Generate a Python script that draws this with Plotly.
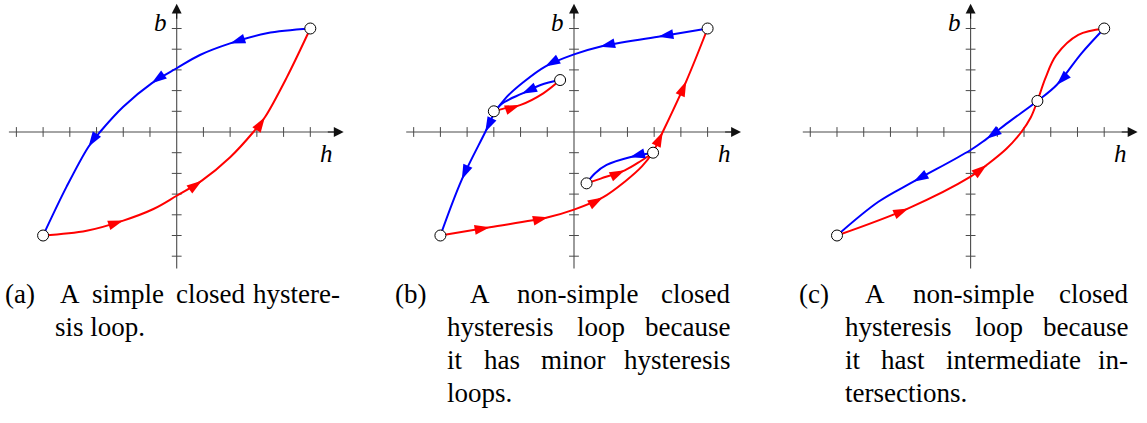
import math
import plotly.graph_objects as go

# ---------------------------------------------------------------- data ----
# (a) simple closed loop: descending (blue) and ascending (red) branches
a_desc_h = [5, 3.37, 2, 0.87, 0, -0.94, -2, -2.87, -3.3, -4.12, -5]
a_desc_b = [5, 4.77, 4.28, 3.72, 3.08, 2.35, 1.22, 0, -0.71, -2.64, -5]
a_asc_h = [-5, -3.37, -2, -0.87, 0, 0.94, 2, 2.87, 3.3, 4.12, 5]
a_asc_b = [-5, -4.77, -4.28, -3.72, -3.08, -2.35, -1.22, 0, 0.71, 2.64, 5]
a_turn_h = [5, -5]
a_turn_b = [5, -5]

# (b) major loop with two minor loops
b_desc_h = [5, 3.15, 0.97, 0, -1.08, -1.9, -2.55, -2.96, -3.32, -4.2, -5]
b_desc_b = [5, 4.6, 4.12, 3.75, 3.16, 2.4, 1.65, 0.95, 0, -2.3, -5]
b_asc_h = [-5, -3.15, -0.97, 0, 1.08, 1.9, 2.55, 2.96, 3.32, 4.2, 5]
b_asc_b = [-5, -4.6, -4.12, -3.75, -3.16, -2.4, -1.65, -0.95, 0, 2.45, 5]
b_minor1_desc_h = [-0.52, -1.25, -1.95, -2.6, -3.0]
b_minor1_desc_b = [2.51, 2.27, 1.85, 1.45, 1.0]
b_minor1_asc_h = [-3.0, -2.6, -2.02, -1.15, -0.52]
b_minor1_asc_b = [1.0, 1.14, 1.3, 1.87, 2.51]
b_minor2_desc_h = [2.96, 2.09, 1.22, 0.78, 0.47]
b_minor2_desc_b = [-1.0, -1.22, -1.59, -2.0, -2.48]
b_minor2_asc_h = [0.47, 1.0, 1.9, 2.5, 2.96]
b_minor2_asc_b = [-2.48, -2.25, -1.85, -1.4, -1.0]
b_turn_h = [5, -5, -3.0, -0.52, 0.47, 2.96]
b_turn_b = [5, -5, 1.0, 2.51, -2.48, -1.0]

# (c) loop whose branches cross in between
c_desc_h = [5, 4.15, 3.22, 2.5, 1.5, 0.6, 0, -2.14, -3.45, -5]
c_desc_b = [5, 3.8, 2.27, 1.5, 0.55, -0.33, -0.87, -2.4, -3.37, -5]
c_asc_h = [-5, -2.33, 0, 0.6, 1.35, 1.9, 2.25, 2.5, 2.8, 3.2, 4.03, 5]
c_asc_b = [-5, -3.69, -2.16, -1.6, -0.8, 0, 0.7, 1.5, 2.6, 3.7, 4.69, 5]
c_turn_h = [5, -5, 2.5]
c_turn_b = [5, -5, 1.5]

# knots that carry a direction arrow
a_desc_arrows = [2, 5, 8]
a_asc_arrows = [2, 5, 8]
b_desc_arrows = [1, 2, 4, 8, 9]
b_asc_arrows = [1, 2, 4, 8, 9]
b_minor1_desc_arrows = [2]
b_minor1_asc_arrows = [2]
b_minor2_desc_arrows = [1]
b_minor2_asc_arrows = [2]
c_desc_arrows = [2, 5, 7]
c_asc_arrows = [1, 3]

tick_values = [-6, -5, -4, -3, -2, -1, 1, 2, 3, 4, 5]

caption_labels = ["(a)", "(b)", "(c)"]
caption_lines = [
    [["A", "simple", "closed", "hystere-"], ["sis loop."]],
    [["A", "non-simple", "closed"], ["hysteresis", "loop", "because"],
     ["it", "has", "minor", "hysteresis"], ["loops."]],
    [["A", "non-simple", "closed"], ["hysteresis", "loop", "because"],
     ["it", "hast", "intermediate", "in-"], ["tersections."]],
]

# --------------------------------------------------------------- layout ---
W, H = 1147, 423
SX, SY = 26.72, 20.7          # pixels per unit of h and b
ORIGIN_Y = 132                # pixel row of b = 0
PANEL_CX = [176.7, 574.0, 970.6]
LEFT, RIGHT = 176, 172        # pixels left / right of the b axis
PANEL_H = 272                 # pixel height of each plot area

BLUE, RED = "#0000ff", "#ff0000"
AXIS_COL = "#4a4a4a"
SERIF = "Liberation Serif"

# caption placement: label x, then per line (left edge, right edge or None
# for a ragged last line)
caption_label_x = [3, 393, 797]
caption_place = [
    [(58, 342), (53, None)],
    [(468, 732), (445, 732), (445, 732), (445, None)],
    [(863, 1130), (843, 1130), (843, 1130), (843, None)],
]
BASELINES = [303, 336, 369, 402]
CAP_SIZE = 27

# advance widths of Liberation Serif (units per 1000 em)
GLYPH_W = {"A": 722, "a": 444, "b": 500, "c": 444, "d": 500, "e": 444,
           "h": 500, "i": 278, "l": 278, "m": 778, "n": 500, "o": 500,
           "p": 500, "r": 333, "s": 389, "t": 278, "u": 500, "y": 500,
           "-": 333, ".": 250}


def word_width(word):
    return sum(GLYPH_W.get(ch, 500) for ch in word) * CAP_SIZE / 1000


def arrow_angles(h, b, idx):
    """Marker angles following plotly's own spline tangent at each knot."""
    pts = [(x * SX, -y * SY) for x, y in zip(h, b)]
    out = []
    for i in idx:
        p0, p1, p2 = pts[i - 1], pts[i], pts[i + 1]
        d1 = (p0[0] - p1[0], p0[1] - p1[1])
        d2 = (p2[0] - p1[0], p2[1] - p1[1])
        d1a = (d1[0] ** 2 + d1[1] ** 2) ** 0.25
        d2a = (d2[0] ** 2 + d2[1] ** 2) ** 0.25
        tx = d1a ** 2 * d2[0] - d2a ** 2 * d1[0]
        ty = d1a ** 2 * d2[1] - d2a ** 2 * d1[1]
        out.append(math.degrees(math.atan2(tx, -ty)))
    return out


panels = [
    dict(curves=[(a_desc_h, a_desc_b, BLUE, a_desc_arrows),
                 (a_asc_h, a_asc_b, RED, a_asc_arrows)],
         turns=(a_turn_h, a_turn_b)),
    dict(curves=[(b_desc_h, b_desc_b, BLUE, b_desc_arrows),
                 (b_asc_h, b_asc_b, RED, b_asc_arrows),
                 (b_minor1_desc_h, b_minor1_desc_b, BLUE, b_minor1_desc_arrows),
                 (b_minor1_asc_h, b_minor1_asc_b, RED, b_minor1_asc_arrows),
                 (b_minor2_desc_h, b_minor2_desc_b, BLUE, b_minor2_desc_arrows),
                 (b_minor2_asc_h, b_minor2_asc_b, RED, b_minor2_asc_arrows)],
         turns=(b_turn_h, b_turn_b)),
    dict(curves=[(c_desc_h, c_desc_b, BLUE, c_desc_arrows),
                 (c_asc_h, c_asc_b, RED, c_asc_arrows)],
         turns=(c_turn_h, c_turn_b)),
]

fig = go.Figure()
fig.update_layout(width=W, height=H, margin=dict(l=0, r=0, t=0, b=0),
                  paper_bgcolor="white", plot_bgcolor="rgba(0,0,0,0)",
                  showlegend=False)

for k, panel in enumerate(panels):
    sfx = "" if k == 0 else str(k + 1)
    xref, yref = "x" + sfx, "y" + sfx
    cx = PANEL_CX[k]
    fig.update_layout({
        "xaxis" + sfx: dict(domain=[(cx - LEFT) / W, (cx + RIGHT) / W],
                            range=[-LEFT / SX, RIGHT / SX], visible=False,
                            fixedrange=True, anchor=yref),
        "yaxis" + sfx: dict(domain=[1 - PANEL_H / H, 1],
                            range=[(ORIGIN_Y - PANEL_H) / SY, ORIGIN_Y / SY],
                            visible=False, fixedrange=True, anchor=xref),
    })

    # coordinate axes
    fig.add_shape(type="line", xref=xref, yref=yref, x0=-6.28, x1=6.0,
                  y0=0, y1=0, layer="below",
                  line=dict(color=AXIS_COL, width=1.1))
    fig.add_shape(type="line", xref=xref, yref=yref, x0=0, x1=0,
                  y0=-6.6, y1=5.9, layer="below",
                  line=dict(color=AXIS_COL, width=1.1))
    fig.add_annotation(x=6.25, y=0, ax=5.6, ay=0, xref=xref, yref=yref,
                       axref=xref, ayref=yref, text="", showarrow=True,
                       arrowhead=2, arrowsize=1.8, arrowwidth=1.1,
                       arrowcolor="#111")
    fig.add_annotation(x=0, y=6.2, ax=0, ay=5.4, xref=xref, yref=yref,
                       axref=xref, ayref=yref, text="", showarrow=True,
                       arrowhead=2, arrowsize=1.8, arrowwidth=1.1,
                       arrowcolor="#111")
    fig.add_trace(go.Scatter(x=tick_values, y=[0] * len(tick_values),
                             xaxis=xref, yaxis=yref, mode="markers",
                             hoverinfo="skip",
                             marker=dict(symbol="line-ns-open", size=7,
                                         color=AXIS_COL,
                                         line=dict(color=AXIS_COL, width=1))))
    fig.add_trace(go.Scatter(x=[0] * len(tick_values), y=tick_values,
                             xaxis=xref, yaxis=yref, mode="markers",
                             hoverinfo="skip",
                             marker=dict(symbol="line-ew-open", size=7,
                                         color=AXIS_COL,
                                         line=dict(color=AXIS_COL, width=1))))
    fig.add_annotation(x=-0.6, y=5.3, xref=xref, yref=yref, text="b",
                       showarrow=False,
                       font=dict(family=SERIF, size=25, color="black",
                                 style="italic"))
    fig.add_annotation(x=5.62, y=-1.05, xref=xref, yref=yref, text="h",
                       showarrow=False,
                       font=dict(family=SERIF, size=25, color="black",
                                 style="italic"))

    # branches
    for h, b, col, idx in panel["curves"]:
        fig.add_trace(go.Scatter(x=h, y=b, xaxis=xref, yaxis=yref,
                                 mode="lines", hoverinfo="skip",
                                 line=dict(color=col, width=2,
                                           shape="spline", smoothing=1)))
    for h, b, col, idx in panel["curves"]:
        fig.add_trace(go.Scatter(
            x=[h[i] for i in idx], y=[b[i] for i in idx],
            xaxis=xref, yaxis=yref, mode="markers", hoverinfo="skip",
            marker=dict(symbol="arrow", size=16, color=col,
                        angle=arrow_angles(h, b, idx),
                        line=dict(width=0))))
    th, tb = panel["turns"]
    fig.add_trace(go.Scatter(x=th, y=tb, xaxis=xref, yaxis=yref,
                             mode="markers", hoverinfo="skip",
                             marker=dict(symbol="circle", size=11,
                                         color="white",
                                         line=dict(color="black", width=1))))

    # caption, set word by word so full lines are justified
    cap_font = dict(family=SERIF, size=CAP_SIZE, color="black")

    def ymid(base):
        return 1 - (base - 9) / H

    fig.add_annotation(x=caption_label_x[k] / W, y=ymid(BASELINES[0]),
                       xref="paper", yref="paper", xanchor="left",
                       yanchor="middle", text=caption_labels[k],
                       showarrow=False, font=cap_font)
    for li, (words, place) in enumerate(zip(caption_lines[k], caption_place[k])):
        left, right = place
        y = ymid(BASELINES[li])
        if right is None:
            fig.add_annotation(x=left / W, y=y, xref="paper", yref="paper",
                               xanchor="left", yanchor="middle",
                               text=" ".join(words), showarrow=False,
                               font=cap_font)
            continue
        widths = [word_width(w) for w in words]
        gap = (right - left - sum(widths)) / (len(words) - 1)
        xpos = left
        for wi, word in enumerate(words):
            if wi == len(words) - 1:
                fig.add_annotation(x=right / W, y=y, xref="paper",
                                   yref="paper", xanchor="right",
                                   yanchor="middle", text=word,
                                   showarrow=False, font=cap_font)
            else:
                fig.add_annotation(x=xpos / W, y=y, xref="paper",
                                   yref="paper", xanchor="left",
                                   yanchor="middle", text=word,
                                   showarrow=False, font=cap_font)
            xpos += widths[wi] + gap

fig.write_html("out.html")
